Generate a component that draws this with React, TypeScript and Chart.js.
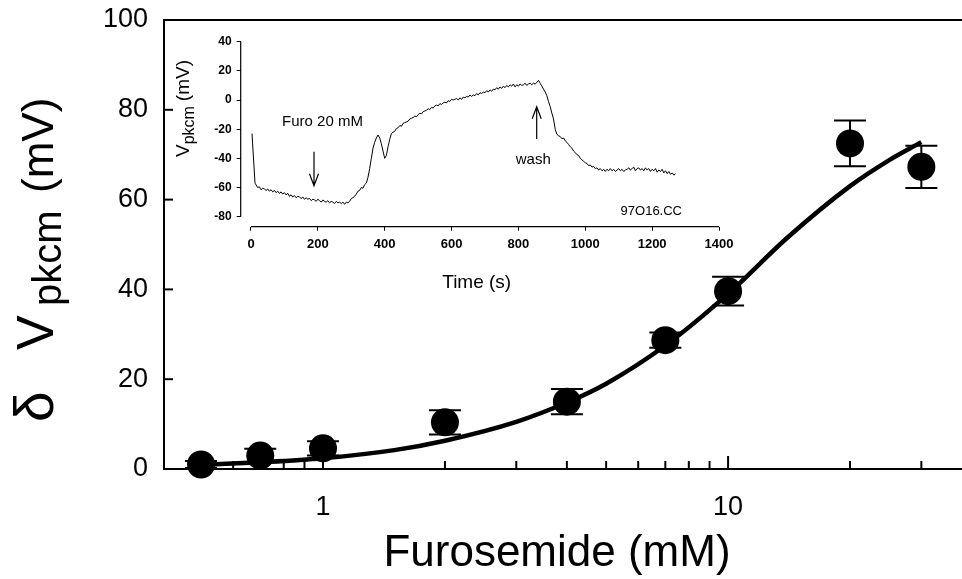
import React, { useEffect, useRef } from "react";
import { Chart, registerables } from "chart.js";
Chart.register(...registerables);

const FONT = "'Liberation Sans', Arial, Helvetica, sans-serif";

// ---- Main dose-response data ----
const concentrations = [0.5, 0.7, 1, 2, 4, 7, 10, 20, 30];
const deltaV = [1.0, 3.0, 4.6, 10.4, 15.0, 28.7, 39.6, 72.5, 67.3];
const sem = [0.8, 1.5, 1.6, 2.7, 2.8, 1.7, 3.2, 5.1, 4.7];

// fitted curve
const fitX = [0.5, 0.7, 1, 1.5, 2, 3, 4, 5, 7, 10, 14, 20, 25, 30];
const fitY = [0.9, 1.5, 2.4, 4.2, 6.3, 10.5, 14.8, 19.0, 27.5, 39.0, 51.5, 63.0, 68.8, 72.8];

const xTicks = [0.5, 0.6, 0.7, 0.8, 0.9, 1, 2, 3, 4, 5, 6, 7, 8, 9, 10, 20, 30];
const xLabeled = [1, 10];
const xMajor = [1, 10];
const yTicks = [0, 20, 40, 60, 80, 100];

// ---- Inset trace data (time in s, potential in mV) ----
const traceTime = [
  3, 12,
  20, 25, 30, 35, 40, 45, 50, 55, 60, 65,
  70, 75, 80, 85, 90, 95, 100, 105, 110, 115,
  120, 125, 130, 135, 140, 145, 150, 155, 160, 165,
  170, 175, 180, 185, 190, 195, 200, 205, 210, 215,
  220, 225, 230, 235, 240, 245, 250, 255, 260, 265,
  270, 275, 280, 285, 290, 295, 300, 305, 310, 315,
  320, 325, 330, 335, 340, 345, 350, 355, 360, 365,
  370, 375, 380, 385, 390, 395, 400, 405, 410, 415,
  420, 425, 430, 435, 440, 445, 450, 455, 460, 465,
  470, 475, 480, 485, 490, 495, 500, 505, 510, 515,
  520, 525, 530, 535, 540, 545, 550, 555, 560, 565,
  570, 575, 580, 585, 590, 595, 600, 605, 610, 615,
  620, 625, 630, 635, 640, 645, 650, 655, 660, 665,
  670, 675, 680, 685, 690, 695, 700, 705, 710, 715,
  720, 725, 730, 735, 740, 745, 750, 755, 760, 765,
  770, 775, 780, 785, 790, 795, 800, 805, 810, 815,
  820, 825, 830, 835, 840, 845, 850, 855, 860, 865,
  870, 875, 880, 885, 890, 895, 900, 905, 910, 915,
  920, 925, 930, 935, 940, 945, 950, 955, 960, 965,
  970, 975, 980, 985, 990, 995, 1000, 1005, 1010, 1015,
  1020, 1025, 1030, 1035, 1040, 1045, 1050, 1055, 1060, 1065,
  1070, 1075, 1080, 1085, 1090, 1095, 1100, 1105, 1110, 1115,
  1120, 1125, 1130, 1135, 1140, 1145, 1150, 1155, 1160, 1165,
  1170, 1175, 1180, 1185, 1190, 1195, 1200, 1205, 1210, 1215,
  1220, 1225, 1230, 1235, 1240, 1245, 1250, 1255, 1260, 1265,
  1270,
];
const traceMv = [
  -23, -57,
  -60, -59.5, -61.5, -60.5, -61, -62, -61, -62.5, -61.5, -63,
  -62, -63.5, -62.5, -64, -63, -64.5, -63.5, -65, -64, -66,
  -65, -66.5, -65.5, -67, -66, -66.5, -67.5, -66.5, -68, -67,
  -68, -67.5, -69, -68, -68.5, -69.5, -68, -69, -70, -68.5,
  -69.5, -70, -69, -70.5, -69.5, -70, -71, -69.5, -70.5, -70,
  -71, -70, -71.5, -70, -70.5, -69.5, -67.5, -67, -66, -64.5,
  -62.5, -62, -60, -60.5, -58, -57, -53, -47, -40, -33,
  -29, -26, -24, -26, -30, -35, -40, -38, -32, -27,
  -23, -22, -21.5, -19.5, -19, -17.5, -18, -16, -15.5, -15,
  -14.5, -13, -12.5, -12, -11, -11.5, -10, -9, -9.5, -8,
  -7.5, -7, -6, -6.5, -5, -5.5, -4, -3.5, -4, -2.5,
  -3, -2, -1.5, -2, -0.5, -1, 0.5, 0, 0.5, 1,
  0, 1.5, 0.5, 2, 1.5, 2.5, 2, 3.5, 2.5, 3.5,
  3, 4.5, 3.5, 5, 4.5, 5.5, 5, 6.5, 5.5, 7,
  6, 7.5, 7, 8.5, 7.5, 9, 8, 9.5, 8.5, 10,
  9, 10.5, 9.5, 11, 9, 10.5, 9.5, 11, 10, 10.5,
  11.5, 10, 11, 11.5, 10.5, 11.5, 11, 12, 13.5, 11.5,
  9.5, 7.5, 5.5, 3, -1, -4.5, -9, -13, -20, -23.5,
  -24.5, -25, -26.5, -26, -28, -29, -30.5, -32, -33, -35,
  -36, -37.5, -38, -40, -41, -42, -43, -43.5, -45, -44.5,
  -46, -45.5, -47, -46.5, -48, -47, -48.5, -47.5, -49, -47.5,
  -48.5, -47, -48.5, -47.5, -49, -48, -47, -48.5, -47.5, -49,
  -48, -47.5, -46.5, -48, -47, -46, -48.5, -47, -46.5, -48,
  -47, -48.5, -46.5, -48, -47, -49, -47.5, -48.5, -47, -49.5,
  -48, -49, -47.5, -50, -48.5, -50.5, -49, -51, -50, -51.5,
  -50.5,
];
const insetXTicks = [0, 200, 400, 600, 800, 1000, 1200, 1400];
const insetYTicks = [-80, -60, -40, -20, 0, 20, 40];

// pieces of a rotated title: start = page y where the piece begins (text runs upward)
type Piece = { text: string; size: number; shift: number; start: number };

function drawRotated(ctx: CanvasRenderingContext2D, bx: number, pieces: Piece[]) {
  ctx.save();
  ctx.fillStyle = "#000";
  ctx.textBaseline = "alphabetic";
  ctx.textAlign = "left";
  for (const p of pieces) {
    ctx.save();
    ctx.translate(bx + p.shift, p.start);
    ctx.rotate(-Math.PI / 2);
    ctx.font = `${p.size}px ${FONT}`;
    ctx.fillText(p.text, 0, 0);
    ctx.restore();
  }
  ctx.restore();
}

function zeroPad(s: any) {
  s.paddingLeft = 0;
  s.paddingRight = 0;
  s.paddingTop = 0;
  s.paddingBottom = 0;
}

const mainDecor = {
  id: "mainDecor",
  beforeDatasetsDraw(chart: any) {
    const { ctx, chartArea, scales } = chart;
    const x = scales.x;
    const y = scales.y;
    ctx.save();
    ctx.strokeStyle = "#000";
    ctx.lineWidth = 2;
    for (const t of xTicks) {
      const px = x.getPixelForValue(t);
      const len = xMajor.includes(t) ? 13 : 8;
      ctx.beginPath();
      ctx.moveTo(px, chartArea.bottom);
      ctx.lineTo(px, chartArea.bottom - len);
      ctx.stroke();
    }
    for (const t of yTicks) {
      const py = y.getPixelForValue(t);
      ctx.beginPath();
      ctx.moveTo(chartArea.left, py);
      ctx.lineTo(chartArea.left + 9, py);
      ctx.stroke();
    }
    ctx.beginPath();
    ctx.moveTo(chartArea.left - 1, chartArea.top);
    ctx.lineTo(chartArea.right, chartArea.top);
    ctx.stroke();
    concentrations.forEach((c, i) => {
      const px = x.getPixelForValue(c);
      const top = y.getPixelForValue(deltaV[i] + sem[i]);
      const bot = y.getPixelForValue(deltaV[i] - sem[i]);
      ctx.beginPath();
      ctx.moveTo(px, top);
      ctx.lineTo(px, bot);
      ctx.moveTo(px - 16, top);
      ctx.lineTo(px + 16, top);
      ctx.moveTo(px - 16, bot);
      ctx.lineTo(px + 16, bot);
      ctx.stroke();
    });
    ctx.restore();
  },
  afterDraw(chart: any) {
    const { ctx } = chart;
    ctx.save();
    ctx.fillStyle = "#000";
    ctx.font = `44px ${FONT}`;
    ctx.textAlign = "center";
    ctx.textBaseline = "alphabetic";
    ctx.fillText("Furosemide (mM)", 557, 566);
    ctx.restore();
    drawRotated(ctx, 53, [
      { text: "\u03B4", size: 55, shift: 0, start: 422 },
      { text: "V", size: 52, shift: 0, start: 350 },
      { text: "pkcm", size: 40, shift: 8, start: 306 },
      { text: "(mV)", size: 44, shift: 0, start: 193 },
    ]);
  },
};

function arrow(ctx: CanvasRenderingContext2D, x: number, yTail: number, yTip: number) {
  const dir = yTip > yTail ? 1 : -1;
  ctx.beginPath();
  ctx.moveTo(x, yTail);
  ctx.lineTo(x, yTip);
  ctx.moveTo(x - 4.5, yTip - dir * 12);
  ctx.lineTo(x, yTip);
  ctx.lineTo(x + 4.5, yTip - dir * 12);
  ctx.stroke();
}

const insetDecor = {
  id: "insetDecor",
  afterDraw(chart: any) {
    const { ctx, scales } = chart;
    const x = scales.x;
    const y = scales.y;
    ctx.save();
    ctx.strokeStyle = "#000";
    ctx.lineWidth = 1.2;
    ctx.beginPath();
    ctx.moveTo(x.left, y.getPixelForValue(-80));
    ctx.lineTo(x.left, y.getPixelForValue(40));
    ctx.stroke();
    ctx.beginPath();
    ctx.moveTo(x.getPixelForValue(0), y.bottom);
    ctx.lineTo(x.getPixelForValue(1400), y.bottom);
    ctx.stroke();
    arrow(ctx, 154, 121.7, 155.7);
    arrow(ctx, 376.7, 109, 76.7);
    ctx.fillStyle = "#000";
    ctx.textAlign = "center";
    ctx.textBaseline = "middle";
    ctx.font = `15px ${FONT}`;
    ctx.fillText("Furo 20 mM", 162.5, 92);
    ctx.fillText("wash", 373.3, 130);
    ctx.font = `13px ${FONT}`;
    ctx.fillText("97O16.CC", 491.3, 181.7);
    ctx.font = `19px ${FONT}`;
    ctx.fillText("Time (s)", 316.7, 253);
    ctx.restore();
    drawRotated(ctx, 29, [
      { text: "V", size: 19, shift: 0, start: 127 },
      { text: "pkcm", size: 16, shift: 5, start: 114.3 },
      { text: "(mV)", size: 19, shift: 0, start: 71.2 },
    ]);
  },
};

export default function App() {
  const mainRef = useRef<HTMLCanvasElement>(null);
  const insetRef = useRef<HTMLCanvasElement>(null);

  useEffect(() => {
    document.body.style.margin = "0";
    const main = new Chart(mainRef.current as HTMLCanvasElement, {
      type: "scatter",
      data: {
        datasets: [
          {
            type: "line",
            data: fitX.map((v, i) => ({ x: v, y: fitY[i] })),
            borderColor: "#000",
            borderWidth: 4.5,
            pointRadius: 0,
            cubicInterpolationMode: "monotone",
            fill: false,
            order: 2,
          } as any,
          {
            type: "scatter",
            data: concentrations.map((v, i) => ({ x: v, y: deltaV[i] })),
            backgroundColor: "#000",
            borderColor: "#000",
            borderWidth: 0,
            pointRadius: 14,
            clip: false,
            order: 1,
          } as any,
        ],
      },
      options: {
        animation: false,
        responsive: false,
        layout: { autoPadding: false, padding: { top: 20, left: 0, right: 0, bottom: 0 } },
        plugins: { legend: { display: false }, tooltip: { enabled: false } },
        scales: {
          x: {
            type: "logarithmic",
            min: 0.405,
            max: 37.8,
            afterBuildTicks: (s: any) => {
              s.ticks = xTicks.map((v) => ({ value: v }));
            },
            afterFit: (s: any) => {
              s.height = 110;
              zeroPad(s);
            },
            ticks: {
              autoSkip: false,
              maxRotation: 0,
              padding: 22,
              color: "#000",
              font: { family: FONT, size: 27 },
              callback: (v: any) => (xLabeled.includes(Number(v)) ? String(v) : ""),
            },
            grid: { display: false, drawTicks: false },
            border: { display: true, color: "#000", width: 2 },
          },
          y: {
            min: 0,
            max: 100,
            afterBuildTicks: (s: any) => {
              s.ticks = yTicks.map((v) => ({ value: v }));
            },
            afterFit: (s: any) => {
              s.width = 164;
              zeroPad(s);
            },
            ticks: {
              padding: 16,
              color: "#000",
              font: { family: FONT, size: 27 },
            },
            grid: { display: false, drawTicks: false },
            border: { display: true, color: "#000", width: 2 },
          },
        },
      } as any,
      plugins: [mainDecor],
    });

    const inset = new Chart(insetRef.current as HTMLCanvasElement, {
      type: "line",
      data: {
        datasets: [
          {
            data: traceTime.map((t, i) => ({ x: t, y: traceMv[i] })),
            borderColor: "#000",
            borderWidth: 1,
            pointRadius: 0,
            tension: 0,
            fill: false,
          },
        ],
      },
      options: {
        animation: false,
        responsive: false,
        layout: { autoPadding: false, padding: { top: 11.7, right: 21, left: 0, bottom: 0 } },
        plugins: { legend: { display: false }, tooltip: { enabled: false } },
        scales: {
          x: {
            type: "linear",
            min: -30.8,
            max: 1400,
            afterBuildTicks: (s: any) => {
              s.ticks = insetXTicks.map((v) => ({ value: v }));
            },
            afterFit: (s: any) => {
              s.height = 73.3;
              zeroPad(s);
            },
            ticks: {
              autoSkip: false,
              maxRotation: 0,
              padding: 6,
              color: "#000",
              font: { family: FONT, size: 13, weight: "bold" },
              callback: (v: any) => String(v),
            },
            grid: { display: true, drawOnChartArea: false, drawTicks: true, tickLength: 4, color: "#000", lineWidth: 1 },
            border: { display: false },
          },
          y: {
            min: -86.86,
            max: 40,
            afterBuildTicks: (s: any) => {
              s.ticks = insetYTicks.map((v) => ({ value: v }));
            },
            afterFit: (s: any) => {
              s.width = 80.7;
              zeroPad(s);
            },
            ticks: {
              padding: 5,
              color: "#000",
              font: { family: FONT, size: 12, weight: "bold" },
              callback: (v: any) => String(v),
            },
            grid: { display: true, drawOnChartArea: false, drawTicks: true, tickLength: 4, color: "#000", lineWidth: 1 },
            border: { display: false },
          },
        },
      } as any,
      plugins: [insetDecor],
    });

    return () => {
      main.destroy();
      inset.destroy();
    };
  }, []);

  return (
    <div style={{ position: "relative", width: 962, height: 579, background: "#fff" }}>
      <canvas
        ref={mainRef}
        width={962}
        height={579}
        style={{ position: "absolute", left: 0, top: 0, width: 962, height: 579 }}
      />
      <canvas
        ref={insetRef}
        width={580}
        height={270}
        style={{ position: "absolute", left: 160, top: 30, width: 580, height: 270 }}
      />
    </div>
  );
}
